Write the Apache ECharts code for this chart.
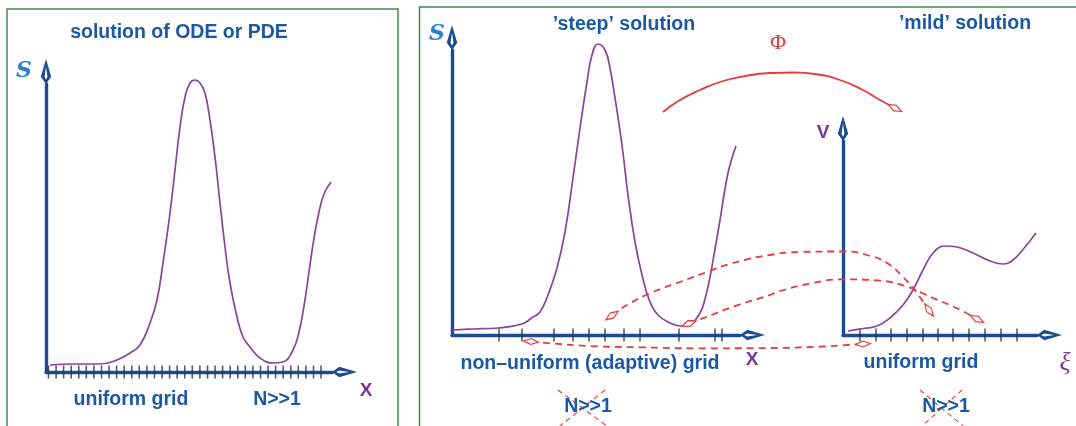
<!DOCTYPE html>
<html><head><meta charset="utf-8">
<script src="https://cdn.jsdelivr.net/npm/echarts@6/dist/echarts.min.js"></script>
<style>html,body{margin:0;padding:0;background:#fff}#c{width:1076px;height:426px}</style>
</head><body><div id="c"></div>
<script>
// ---------- data ----------
// Panel 1: solution on a uniform grid (x, S)
const uniformCurve = [[0.4,0.7],[2.7,0.8],[5.4,0.8],[7.1,1.2],[8.4,1.9],[9.4,2.7],[10.4,4.9],[11.1,7.2],[11.7,10.9],[12.4,15.9],[12.9,20.2],[13.4,24.5],[13.9,27.5],[14.4,28.9],[14.9,29.2],[15.4,28.9],[15.9,27.9],[16.4,25.2],[16.9,21.5],[17.4,16.9],[17.9,12.5],[18.4,8.9],[19.1,5.5],[19.7,3.5],[20.4,2.5],[21.4,1.4],[22.7,0.9],[23.7,1.0],[24.7,2.2],[25.3,4.0],[25.8,6.6],[26.3,10.0],[26.8,13.4],[27.3,16.0],[27.8,17.8],[28.5,19.0]];
const uniformGridNodes = [0.25,1.01,1.76,2.52,3.28,4.03,4.79,5.55,6.31,7.06,7.82,8.58,9.33,10.09,10.85,11.61,12.36,13.12,13.88,14.63,15.39,16.15,16.91,17.66,18.42,19.18,19.93,20.69,21.45,22.21,22.96,23.72,24.48,25.23,25.99,26.75,27.5];
// Panel 2: 'steep' solution on the adaptive grid (x, S)
const steepCurve = [[0.1,0.5],[2.1,0.6],[4.6,0.7],[7.0,1.1],[8.1,1.8],[8.8,2.3],[9.6,4.0],[10.5,6.7],[11.3,10.3],[12.1,15.7],[12.8,20.7],[13.5,25.3],[14.0,28.0],[14.6,29.1],[15.3,28.5],[15.8,26.7],[16.3,23.7],[17.0,19.0],[17.6,14.0],[18.3,9.3],[19.0,6.0],[19.8,3.3],[20.6,2.0],[21.8,1.2],[22.8,0.9],[23.8,1.1],[24.8,2.2],[25.3,3.6],[25.8,5.8],[26.3,8.6],[26.8,11.5],[27.2,14.0],[27.6,16.2],[28.0,17.7],[28.4,18.9]];
const adaptiveGridNodes = [4.7,7.0,10.2,12.1,13.7,15.3,17.2,18.8,22.7,26.3,27.0];
// Panel 3: 'mild' solution on the uniform grid (xi, V)
const mildCurve = [[0.5,0.4],[1.7,0.6],[3.4,0.9],[4.7,1.7],[6.0,3.0],[7.0,4.5],[8.0,6.5],[9.0,8.2],[10.2,8.9],[11.4,8.8],[13.0,8.2],[14.7,7.4],[16.0,7.1],[17.0,7.5],[18.2,8.8],[19.3,10.2]];
const mildGridNodes = [1.7,3.3,4.8,6.4,8.0,9.5,11.0,12.6,14.2,15.8,17.4];
// Overlay (page units): mapping Phi and the node correspondences
const phiArc = [[663,112],[680,100],[700,90],[720,82],[745,76],[770,73],[795,72.5],[815,74],[840,80],[863,90],[880,100],[895,108]];
const mapUpper = [[612,315.5],[627,305],[653,292],[680,282],[707,272],[733,263],[770,255],[800,252],[843,251.5],[867,255],[887,263],[903,277],[913,288],[922,300],[929,310]];
const mapMiddle = [[689,323.5],[707,316.7],[733,306.7],[770,295],[780,291],[813,283],[843,279.3],[880,280.7],[907,286.7],[930,296.7],[957,308.3],[977,319]];
const mapLower = [[531,341.5],[550,343.3],[590,346],[640,347.3],[700,348.3],[770,348],[820,346.7],[847,345],[863,344]];
const crossOuts = [[[558,390],[607,426]],[[605,390],[560,426]],[[920,390],[963,426]],[[962,390],[922,426]]];

// ---------- styles ----------
const axisBlue = '#1c4c8e', textBlue = '#1b58a3', sBlue = '#2a7fd0';
const curvePurple = '#8d42a0', labelPurple = '#7e3596', red = '#e63b3b', tickCol = '#1f3a42';
const arrowPath = 'path://M5 0 L10 17 L5 24 L0 17 Z M5 7.5 L3.6 17 L5 20 L6.4 17 Z';

function axisPair(idx, xMax, yMax) {
  const line = {show: true, onZero: true, symbol: ['none', arrowPath], symbolSize: [11, 25], symbolOffset: [0, 12.5], lineStyle: {color: axisBlue, width: 3.4}};
  return {
    x: {type: 'value', gridIndex: idx, min: 0, max: xMax, axisLine: line, axisTick: {show: false}, axisLabel: {show: false}, splitLine: {show: false}},
    y: {type: 'value', gridIndex: idx, min: 0, max: yMax, axisLine: line, axisTick: {show: false}, axisLabel: {show: false}, splitLine: {show: false}}
  };
}
const a0 = axisPair(0, 28.6, 28.8), a1 = axisPair(1, 28.8, 28.5), a2 = axisPair(2, 19.4, 19.4);

function curve(idx, data) {
  return {type: 'line', xAxisIndex: idx, yAxisIndex: idx, data: data, smooth: 0.45, symbol: 'none', clip: false, silent: true, z: 4,
    lineStyle: {color: curvePurple, width: 1.7}};
}
function nodes(idx, xs) {
  return {type: 'scatter', xAxisIndex: idx, yAxisIndex: idx, data: xs.map(x => [x, 0]), symbol: 'rect', symbolSize: [1.6, 13], clip: false, silent: true, z: 3,
    itemStyle: {color: tickCol}};
}
function withHeads(pts, startHead, endHead) {
  return pts.map((p, i) => {
    const isStart = i === 0 && startHead, isEnd = i === pts.length - 1 && endHead;
    if (!isStart && !isEnd) return p;
    const q = isStart ? pts[1] : pts[i - 1];
    const ang = Math.atan2(-(p[1] - q[1]), p[0] - q[0]) * 180 / Math.PI;
    return {value: p, symbol: 'diamond', symbolSize: [15, 6], symbolRotate: ang};
  });
}
function overlayLine(data, dashed, width) {
  return {type: 'line', xAxisIndex: 3, yAxisIndex: 3, data: data, smooth: 0.5, symbol: 'none', showSymbol: true, silent: true, z: 5,
    lineStyle: {color: red, width: width, type: dashed ? [7, 5] : 'solid'},
    itemStyle: {color: '#fff', borderColor: red, borderWidth: 1.4}};
}

const boldFont = 'bold 19.5px "Liberation Sans", Arial, sans-serif';
const labelFont = 'bold 19px "Liberation Sans", Arial, sans-serif';
const sFont = 'italic bold 22px "DejaVu Serif", serif';
function txt(x, y, text, font, fill) {
  return {type: 'text', x: x, y: y, silent: true, z: 10,
    style: {text: text, font: font, fill: fill, align: 'center', verticalAlign: 'middle', textAlign: 'center', textVerticalAlign: 'middle'}};
}

const option = {
  animation: false,
  backgroundColor: '#fff',
  grid: [
    {left: 46, top: 84, width: 286, height: 288, outerBoundsMode: 'none'},
    {left: 452, top: 50, width: 288, height: 285, outerBoundsMode: 'none'},
    {left: 843, top: 141, width: 194, height: 194, outerBoundsMode: 'none'},
    {left: 0, top: 0, width: 1076, height: 426, outerBoundsMode: 'none'}
  ],
  xAxis: [a0.x, a1.x, a2.x, {type: 'value', gridIndex: 3, min: 0, max: 1076, show: false}],
  yAxis: [a0.y, a1.y, a2.y, {type: 'value', gridIndex: 3, min: 0, max: 426, inverse: true, show: false}],
  series: [
    nodes(0, uniformGridNodes), curve(0, uniformCurve),
    nodes(1, adaptiveGridNodes), curve(1, steepCurve),
    nodes(2, mildGridNodes), curve(2, mildCurve),
    overlayLine(withHeads(phiArc, false, true), false, 1.8),
    overlayLine(withHeads(mapUpper, true, true), true, 1.8),
    overlayLine(withHeads(mapMiddle, true, true), true, 1.8),
    overlayLine(withHeads(mapLower, true, true), true, 1.8)
  ].concat(crossOuts.map(seg => ({type: 'line', xAxisIndex: 3, yAxisIndex: 3, data: seg, symbol: 'none', silent: true, z: 6,
    lineStyle: {color: red, width: 1.1, type: [5, 4]}}))),
  graphic: [
    {type: 'rect', silent: true, shape: {x: 7, y: 9, width: 391, height: 440}, style: {fill: 'none', stroke: '#3f8a4f', lineWidth: 1.5}},
    {type: 'rect', silent: true, shape: {x: 419.5, y: 7, width: 700, height: 440}, style: {fill: 'none', stroke: '#3f8a4f', lineWidth: 1.5}},
    txt(179, 33, 'solution of ODE or PDE', boldFont, textBlue),
    txt(131, 400, 'uniform grid', boldFont, textBlue),
    txt(277, 400, 'N>>1', boldFont, textBlue),
    txt(366, 391, 'X', labelFont, labelPurple),
    txt(24, 71, 'S', sFont, sBlue),
    txt(624, 25, '’steep’ solution', boldFont, textBlue),
    txt(590, 364, 'non–uniform (adaptive) grid', boldFont, textBlue),
    txt(752, 360, 'X', labelFont, labelPurple),
    txt(437, 34, 'S', sFont, sBlue),
    txt(588, 407, 'N>>1', boldFont, textBlue),
    txt(778, 43, 'Φ', '22px "Liberation Serif", serif', red),
    txt(965, 24, '’mild’ solution', boldFont, textBlue),
    txt(921, 363, 'uniform grid', boldFont, textBlue),
    txt(946, 407, 'N>>1', boldFont, textBlue),
    txt(823, 133, 'V', labelFont, labelPurple),
    txt(1065, 363, 'ξ', 'italic 26px "Liberation Serif", serif', labelPurple)
  ]
};
const chart = echarts.init(document.getElementById('c'), null, {renderer: 'canvas'});
chart.setOption(option);
</script></body></html>
